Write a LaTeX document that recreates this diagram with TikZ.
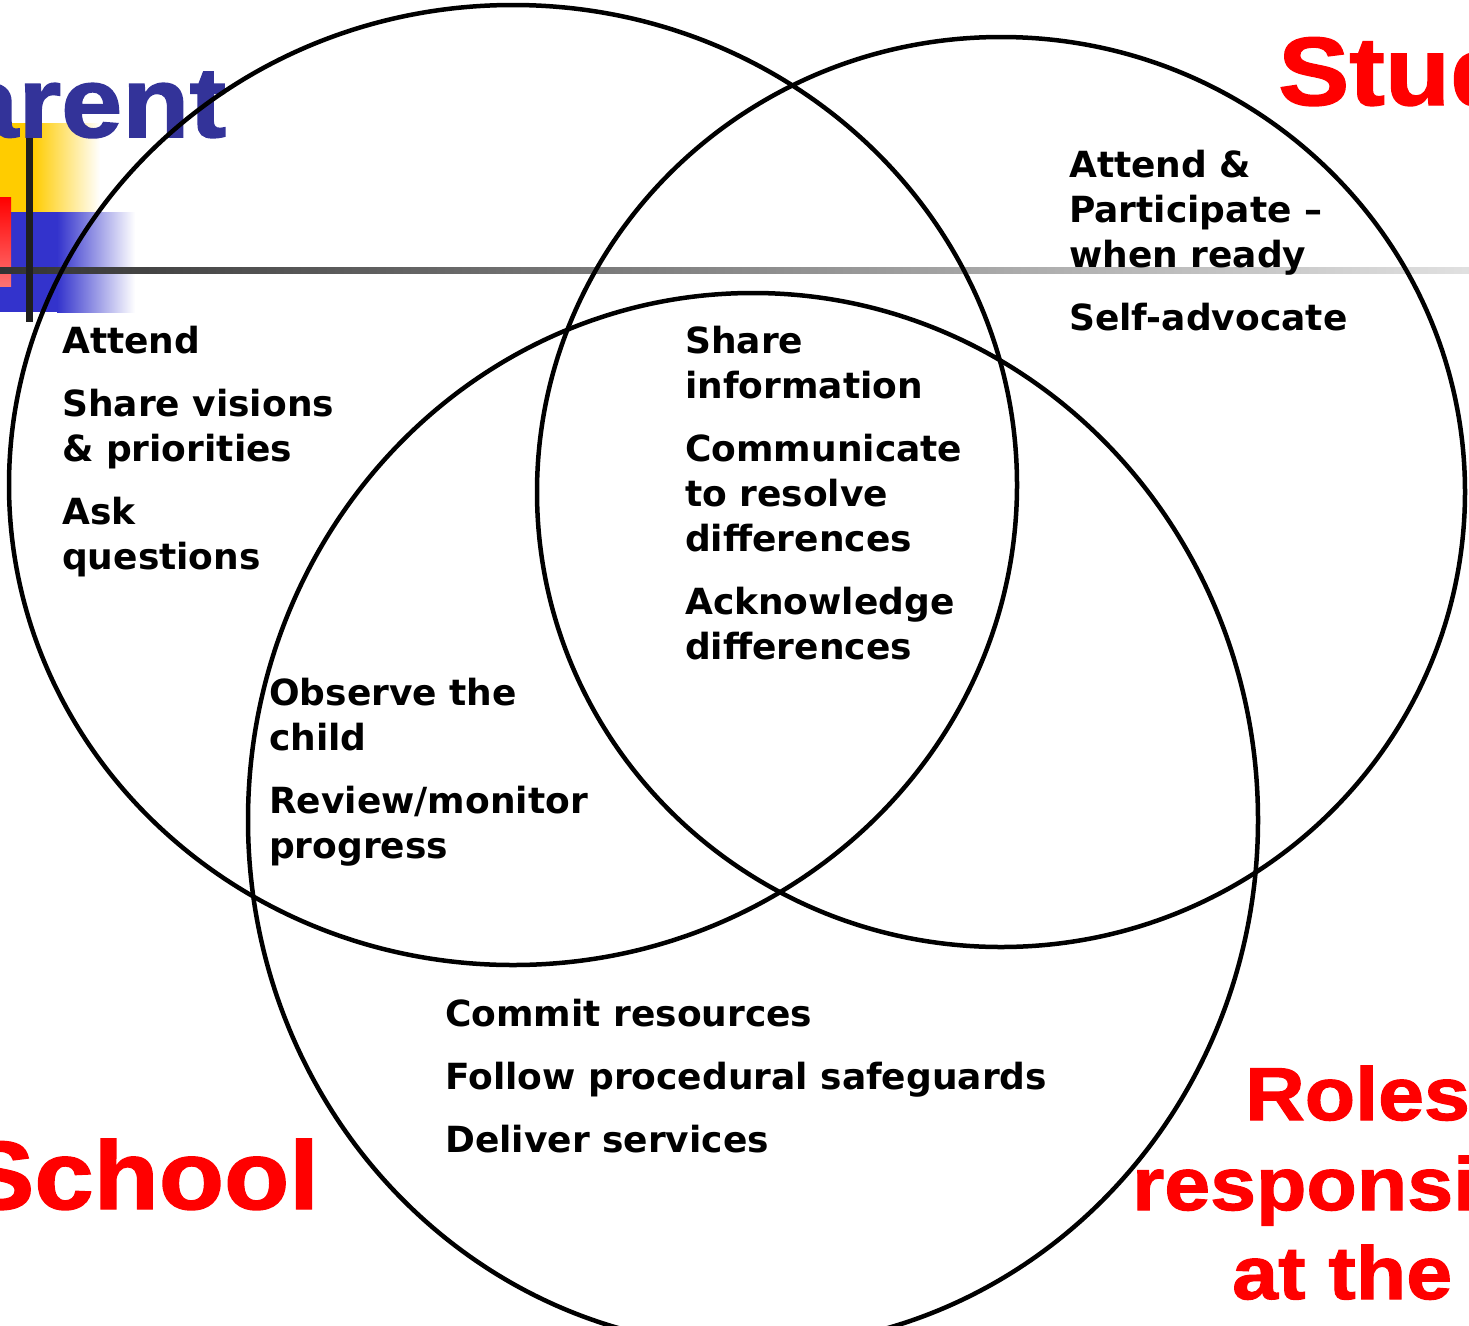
\documentclass[tikz,border=0pt]{standalone}
\usepackage{fontspec}
\setmainfont{DejaVu Sans}
\newfontfamily\titlefont[FakeStretch=1.1, FakeBold=1.5]{Liberation Sans}

\definecolor{parentblue}{HTML}{333399}
\definecolor{titlered}{HTML}{FF0000}
\definecolor{decoyellow}{HTML}{FFCC00}
\definecolor{decoblue}{HTML}{3333CC}

\tikzset{
  roletext/.style={anchor=base west, inner sep=0pt, align=left,
    font=\bfseries\fontsize{36}{45}\selectfont},
  bigtitle/.style={anchor=base west, inner sep=0pt, text=titlered,
    font=\titlefont\bfseries\fontsize{97}{97}\selectfont},
  subtitle/.style={anchor=base west, inner sep=0pt, text=titlered,
    font=\titlefont\bfseries\fontsize{75}{75}\selectfont},
}

\begin{document}
\begin{tikzpicture}[x=1pt,y=-1pt]
    \useasboundingbox (0,0) rectangle (1469,1325);
    \clip (0,0) rectangle (1469,1325);

    % decoracion de la esquina superior izquierda
    \fill[decoyellow] (0,123) rectangle (33,212);
    \shade[left color=decoyellow, right color=white] (33,123) rectangle (100,212);
    \fill[decoblue] (0,212) rectangle (57,312);
    \shade[left color=decoblue, right color=white] (57,212) rectangle (135,312);
    \shade[top color=titlered, bottom color=titlered!55] (0,197) rectangle (11,286);
    \shade[left color=black!80, right color=black!12] (0,267) rectangle (1469,273);
    \fill[black!88] (26,137) rectangle (33,322);

    % titulos
    \node[bigtitle, text=parentblue, font=\titlefont\bfseries\fontsize{100}{100}\selectfont]
        (parenttitle) at (-43,137) {arent};
    \node[bigtitle] (studenttitle) at (1278,105) {Stud};
    \node[bigtitle] (schooltitle) at (-37,1209) {School};
    \node[subtitle] (roles1) at (1245,1120) {Roles};
    \node[subtitle] (roles2) at (1132,1210) {responsi};
    \node[subtitle] (roles3) at (1232,1299) {at the};

    % los tres circulos (padre, alumno, escuela)
    \foreach \cx/\cy/\rx/\ry in {513/485/504/480, 1001/492/464/455, 753/820/505/527}
        \draw[line width=4.5pt] (\cx,\cy) ellipse ({\rx pt} and {\ry pt});

    % textos de cada zona (posicion = linea base de la ultima linea)
    \node[roletext] (parentroles) at (62,569)
        {Attend\\[18pt]Share visions\\\& priorities\\[18pt]Ask\\questions};
    \node[roletext] (studentroles) at (1069,330)
        {Attend \&\\Participate --\\when ready\\[18pt]Self-advocate};
    \node[roletext] (sharedroles) at (685,659)
        {Share\\information\\[18pt]Communicate\\to resolve\\differences\\[18pt]Acknowledge\\differences};
    \node[roletext] (parentschool) at (269,858)
        {Observe the\\child\\[18pt]Review/monitor\\progress};
    \node[roletext] (schoolroles) at (445,1152)
        {Commit resources\\[18pt]Follow procedural safeguards\\[18pt]Deliver services};
\end{tikzpicture}
\end{document}
